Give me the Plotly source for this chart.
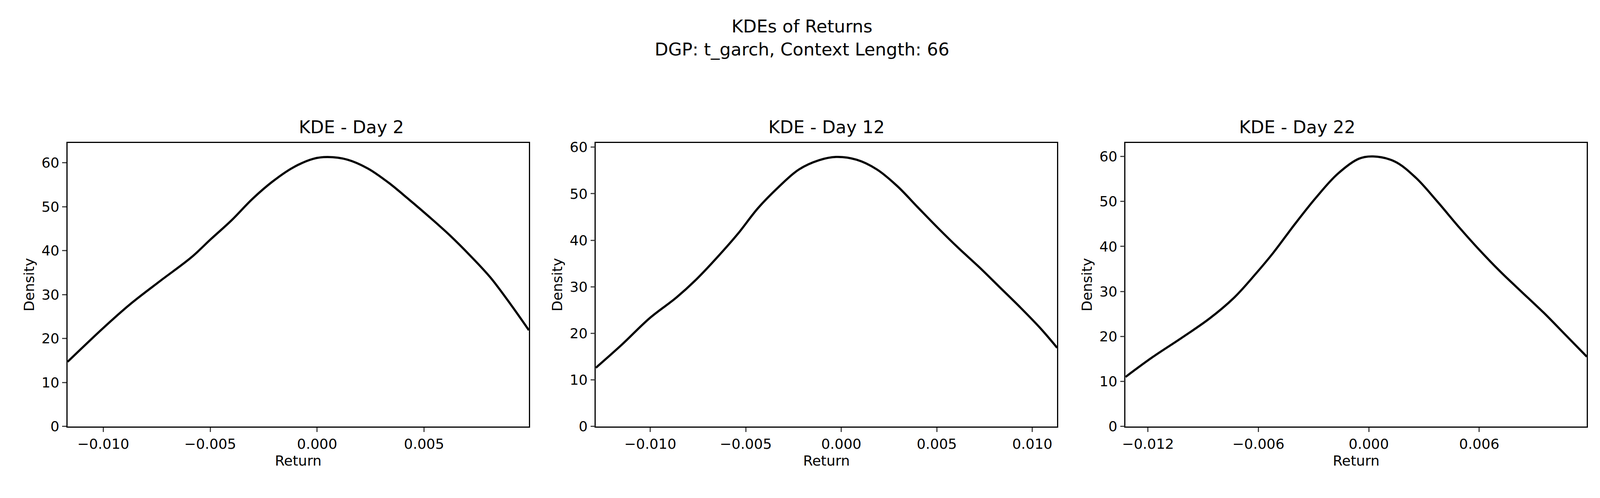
import plotly.graph_objects as go
from plotly.subplots import make_subplots

# Day 2
day2_x = [-0.01167, -0.0100, -0.00877, -0.00734, -0.0059, -0.00495, -0.0040, -0.00304, -0.00209,
          -0.00113, -0.00018, 0.00049, 0.00142, 0.00237, 0.00333, 0.00428, 0.00524, 0.0062,
          0.00715, 0.0081, 0.00906, 0.0099]
day2_y = [14.7, 22.4, 27.7, 33.1, 38.4, 42.7, 46.9, 51.7, 55.7, 58.9, 60.9, 61.3, 60.7, 58.7,
          55.5, 51.7, 47.7, 43.5, 38.9, 33.9, 27.7, 21.9]

# Day 12
day12_x = [-0.01285, -0.01148, -0.01005, -0.00863, -0.00756, -0.0065, -0.00543, -0.00436, -0.00329,
           -0.00222, -0.00116, -0.00027, 0.0008, 0.00187, 0.00294, 0.004, 0.00507, 0.00614,
           0.0072, 0.00827, 0.00934, 0.0104, 0.0113]
day12_y = [12.6, 17.6, 23.2, 27.7, 31.7, 36.3, 41.3, 46.9, 51.4, 55.2, 57.2, 57.9, 57.3, 55.2,
           51.6, 47.1, 42.6, 38.3, 34.3, 30.0, 25.7, 21.2, 16.9]

# Day 22
day22_x = [-0.01322, -0.01175, -0.0102, -0.00865, -0.0073, -0.00615, -0.00519, -0.00403, -0.00286,
           -0.0017, -0.00054, 0.00023, 0.0014, 0.00255, 0.0037, 0.0049, 0.00604, 0.0072,
           0.00836, 0.0095, 0.0107, 0.01185]
day22_y = [11.0, 15.4, 19.6, 24.0, 28.7, 33.9, 38.6, 44.9, 50.9, 56.1, 59.5, 60.0, 58.9, 55.3,
           50.1, 44.3, 39.1, 34.2, 29.7, 25.3, 20.3, 15.5]

titles = ["KDE - Day 2", "KDE - Day 12", "KDE - Day 22"]
xs = [day2_x, day12_x, day22_x]
ys = [day2_y, day12_y, day22_y]
x_ranges = [[-0.01167, 0.0099], [-0.01285, 0.0113], [-0.01322, 0.01185]]
y_ranges = [[0, 64.5], [0, 60.9], [0, 63.0]]
x_ticks = [[-0.010, -0.005, 0.0, 0.005],
           [-0.010, -0.005, 0.0, 0.005, 0.010],
           [-0.012, -0.006, 0.0, 0.006]]
x_labels = [["\u22120.010", "\u22120.005", "0.000", "0.005"],
            ["\u22120.010", "\u22120.005", "0.000", "0.005", "0.010"],
            ["\u22120.012", "\u22120.006", "0.000", "0.006"]]
y_ticks = [0, 10, 20, 30, 40, 50, 60]

font = "DejaVu Sans"
fig = make_subplots(rows=1, cols=3)
domains = [[0.0383, 0.3284], [0.3705, 0.6606], [0.7036, 0.9937]]

for i in range(3):
    fig.add_trace(go.Scatter(x=xs[i], y=ys[i], mode="lines", line=dict(color="black", width=5.5, shape="spline"),
                             showlegend=False), row=1, col=i + 1)
    ax = dict(showline=True, mirror=True, linecolor="black", linewidth=2.5, ticks="outside", ticklen=11,
              tickwidth=2.5, showgrid=False, zeroline=False, tickfont=dict(size=36, color="black"))
    fig.update_xaxes(ax, range=x_ranges[i], tickvals=x_ticks[i], ticktext=x_labels[i], domain=domains[i],
                     title=dict(text="Return", font=dict(size=36, color="black"), standoff=12), row=1, col=i + 1)
    fig.update_yaxes(ax, range=y_ranges[i], tickvals=y_ticks, domain=[0.1255, 0.716],
                     title=dict(text="Density", font=dict(size=36, color="black"), standoff=8), row=1, col=i + 1)
    fig.add_annotation(text=titles[i], x=sum(domains[i]) / 2, y=0.716, xref="paper", yref="paper",
                       yanchor="bottom", yshift=12, showarrow=False, font=dict(size=45, color="black"))

fig.add_annotation(text="KDEs of Returns<br>DGP: t_garch, Context Length: 66", x=0.5, y=1, xref="paper",
                   yref="paper", yanchor="top", yshift=-22, showarrow=False, font=dict(size=45, color="black"))

fig.update_layout(autosize=True, plot_bgcolor="white", paper_bgcolor="white",
                  font=dict(family=font, color="black"), margin=dict(l=0, r=0, t=0, b=0))
fig.write_html("out.html")
